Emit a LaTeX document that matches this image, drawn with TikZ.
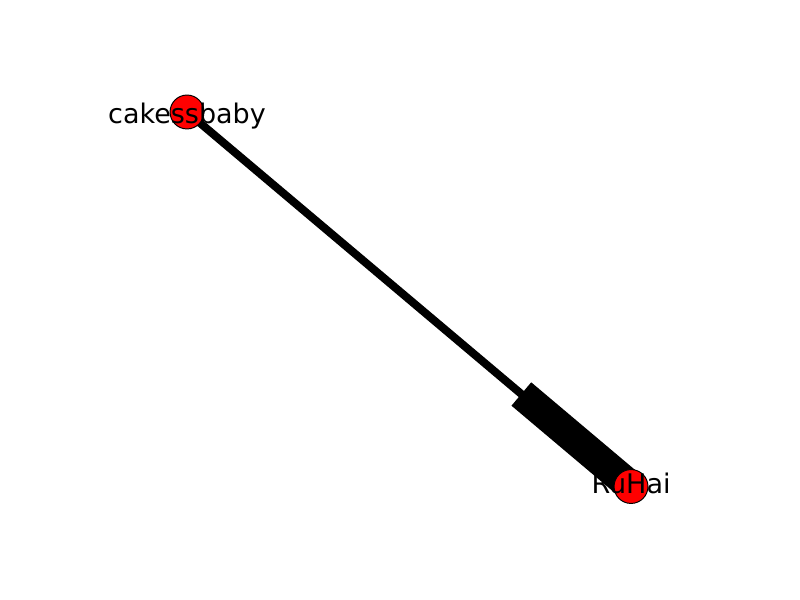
\documentclass[tikz,border=0pt]{standalone}
\usepackage{fontspec}
\setmainfont{DejaVu Sans}
\usetikzlibrary{calc}
\begin{document}
\begin{tikzpicture}[x=0.01in,y=-0.01in]
    \useasboundingbox (0,0) rectangle (800,600);
    \coordinate (cakessbaby) at (187,112);
    \coordinate (RuHai) at (631,486.5);
    \draw[line width=5.8pt] (cakessbaby) -- (RuHai);
    \draw[line width=22.1pt] ($(cakessbaby)!0.753!(RuHai)$) -- ($(cakessbaby)!0.989!(RuHai)$);
    \foreach \p/\dy in {cakessbaby/4,RuHai/0} {
        \node[circle,draw,fill=red,line width=0.7pt,minimum size=24.5pt,inner sep=0pt] (\p-node) at (\p) {};
        \node[font=\fontsize{19.5}{23}\selectfont,inner sep=0pt,text height=14.8pt,text depth=4.6pt] (\p-label) at ($(\p)+(0,\dy)$) {\p};
    }
\end{tikzpicture}
\end{document}
